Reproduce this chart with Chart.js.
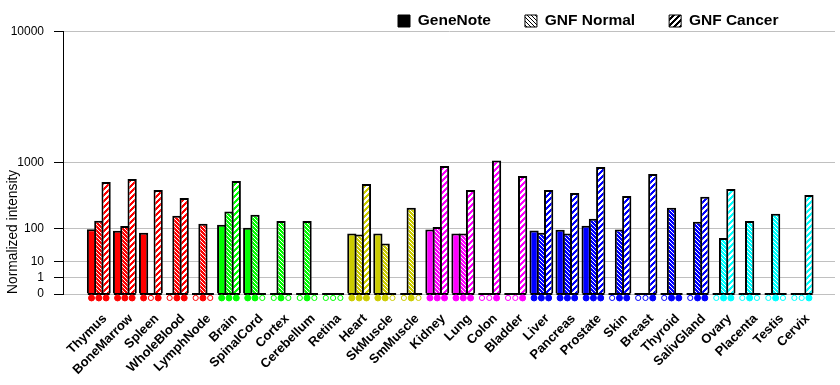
<!DOCTYPE html>
<html><head><meta charset="utf-8">
<script src="https://cdn.jsdelivr.net/npm/chart.js@4/dist/chart.umd.min.js"></script>
<style>html,body{margin:0;padding:0;background:#fff;overflow:hidden}</style>
</head><body>
<canvas id="c" width="840" height="385" style="width:840px;height:385px;display:block"></canvas>
<script>
// ---------------- data ----------------
const CATEGORIES = ['Thymus','BoneMarrow','Spleen','WholeBlood','LymphNode','Brain','SpinalCord','Cortex','Cerebellum','Retina','Heart','SkMuscle','SmMuscle','Kidney','Lung','Colon','Bladder','Liver','Pancreas','Prostate','Skin','Breast','Thyroid','SalivGland','Ovary','Placenta','Testis','Cervix'];
const TISSUE_COLORS = ['#ff0000','#ff0000','#ff0000','#ff0000','#ff0000',
  '#00ff00','#00ff00','#00ff00','#00ff00','#00ff00',
  '#cccc00','#cccc00','#cccc00',
  '#ff00ff','#ff00ff','#ff00ff','#ff00ff',
  '#0000ff','#0000ff','#0000ff','#0000ff','#0000ff','#0000ff','#0000ff',
  '#00ffff','#00ffff','#00ffff','#00ffff'];
const SERIES_NAMES = ['GeneNote','GNF Normal','GNF Cancer'];
const GENENOTE   = [96, 89, 80, null, null, 120, 103, null, null, null, 76, 76, null, 95, 76, null, null, 90, 93, 114, null, null, null, null, null, null, null, null];
const GNF_NORMAL = [144, 112, null, 179, 125, 214, 187, 143, 143, null, 72, 42, 247, 107, 76, null, null, 80, 76, 157, 94, null, 247, 138, 59, 143, 195, null];
const GNF_CANCER = [591, 645, 462, 355, null, 608, null, null, null, null, 557, null, null, 920, 462, 1060, 702, 462, 420, 895, 380, 742, null, 368, 478, null, null, 393];
// present (1) / absent (0) calls shown under each bar
const CALL_GENENOTE = [1,1,1,0,0,1,1,0,0,0,1,1,0,1,1,0,0,1,1,1,0,0,0,0,0,0,0,0];
const CALL_NORMAL   = [1,1,0,1,1,1,1,1,1,0,1,1,1,1,1,0,0,1,1,1,1,0,1,1,1,1,1,0];
const CALL_CANCER   = [1,1,1,1,0,1,0,0,0,0,1,0,0,1,1,1,1,1,1,1,1,1,1,1,1,0,0,1];
const TICK_VALUES = [0, 1, 10, 100, 1000, 10000];
const TICK_LABELS = ['0', '1', '10', '100', '1000', '10000'];

// ---------------- helpers ----------------
const EXP = Math.log10(2);               // axis spacing doubles per decade
const tf = v => (v === null ? null : (v <= 0 ? 0 : Math.pow(v, EXP)));
const FONT = '"Liberation Sans", Arial, Helvetica, sans-serif';
Chart.defaults.font.family = FONT;
Chart.defaults.color = '#000';

const canvas = document.getElementById('c');
const mainCtx = canvas.getContext('2d');
function makeHatch(base, line, kind) {
  const n = kind === 'normal' ? 4 : 6;
  const c = document.createElement('canvas');
  c.width = n; c.height = n;
  const g = c.getContext('2d');
  g.fillStyle = base; g.fillRect(0, 0, n, n);
  g.fillStyle = line;
  for (let y = 0; y < n; y++) for (let x = 0; x < n; x++) {
    const on = kind === 'normal' ? ((x - y + n) % n === 0) : ((x + y) % n < 3);
    if (on) g.fillRect(x, y, 1, 1);
  }
  return mainCtx.createPattern(c, 'repeat');
}
const patCache = {};
const pat = (col, kind) => (patCache[col + kind] = patCache[col + kind] || makeHatch(col, '#ffffff', kind));

const LEGEND_FILLS = ['#000000', makeHatch('#ffffff', '#000000', 'normal'), makeHatch('#000000', '#ffffff', 'cancer')];

const BAR_PCT = 0.84;
const BAR_STEP = BAR_PCT / 3;           // offset of each bar inside its group, in category units
const MARKER_DROP = -0.24;              // markers sit just below the zero line

const barData = arr => arr.map((v, i) => ({ x: i, y: tf(v) }));
const baseline = [];
CATEGORIES.forEach((_, i) => { baseline.push({ x: i - 0.42, y: 0 }, { x: i + 0.42, y: 0 }, { x: i + 0.5, y: null }); });
const markers = [], mFill = [], mStroke = [], mRad = [];
CATEGORIES.forEach((_, i) => {
  [CALL_GENENOTE, CALL_NORMAL, CALL_CANCER].forEach((calls, k) => {
    markers.push({ x: i + (k - 1) * BAR_STEP, y: MARKER_DROP });
    const col = TISSUE_COLORS[i];
    mFill.push(calls[i] ? col : '#ffffff');
    mStroke.push(col);
    mRad.push(calls[i] ? 3 : 2.6);
  });
});

const X_MIN = -1.376, X_MAX = 28.28;
const LEGEND_X = 398, LEGEND_CY = 21, LEGEND_H = 31.5;

const legendPlace = {
  id: 'legendPlace',
  beforeLayout(chart) {
    const lg = chart.legend;
    if (lg && !lg.__patched) {
      const fit = lg.fit;
      lg.fit = function () { fit.call(this); this.height = LEGEND_H; };
      lg.__patched = true;
    }
  },
  afterLayout(chart) {
    const lg = chart.legend;
    const lo = lg.options.labels;
    const w = lg.right - lg.left;
    lg.left = LEGEND_X - lo.padding;
    lg.right = lg.left + w;
    const ih = Math.max(lo.font.size, lo.boxHeight);
    lg.top = LEGEND_CY - lo.padding - ih / 2;
    lg.bottom = LEGEND_CY + ih;
  }
};

new Chart(canvas, {
  type: 'bar',
  data: {
    datasets: [
      { label: SERIES_NAMES[0], data: barData(GENENOTE), backgroundColor: TISSUE_COLORS, borderColor: '#000', borderWidth: 2, order: 2 },
      { label: SERIES_NAMES[1], data: barData(GNF_NORMAL), backgroundColor: TISSUE_COLORS.map(c => pat(c, 'normal')), borderColor: '#000', borderWidth: 2, order: 2 },
      { label: SERIES_NAMES[2], data: barData(GNF_CANCER), backgroundColor: TISSUE_COLORS.map(c => pat(c, 'cancer')), borderColor: '#000', borderWidth: 2, order: 2 },
      { type: 'line', label: 'base', data: baseline, borderColor: '#000', borderWidth: 2, pointRadius: 0, spanGaps: false, clip: false, order: 1 },
      { type: 'line', label: 'calls', data: markers, showLine: false, pointRadius: mRad, pointBackgroundColor: mFill, pointBorderColor: mStroke, pointBorderWidth: 1, clip: false, order: 0 }
    ]
  },
  options: {
    responsive: false,
    animation: false,
    events: [],
    devicePixelRatio: 1,
    layout: { padding: { top: 0, right: 1, left: 0, bottom: 0 } },
    datasets: { bar: { categoryPercentage: BAR_PCT, barPercentage: 1.27, grouped: true } },
    plugins: {
      tooltip: { enabled: false },
      legend: {
        position: 'top', align: 'start',
        labels: {
          boxWidth: 12, boxHeight: 12, padding: 34,
          font: { size: 15.5, weight: 'bold' }, color: '#000',
          generateLabels: () => SERIES_NAMES.map((name, i) => ({
            text: name, fillStyle: LEGEND_FILLS[i], strokeStyle: '#000', lineWidth: 1, hidden: false, datasetIndex: i
          }))
        }
      }
    },
    scales: {
      x: {
        type: 'linear', min: X_MIN, max: X_MAX, offset: false,
        afterBuildTicks: s => { s.ticks = CATEGORIES.map((_, i) => ({ value: i })); },
        afterFit: s => { s.height = 91; },
        ticks: { autoSkip: false, minRotation: 45, maxRotation: 45, padding: 17, labelOffset: 6,
          callback: (v, i) => CATEGORIES[i], font: { size: 13, weight: 'bold' }, color: '#000' },
        grid: { display: false, drawTicks: false },
        border: { display: false }
      },
      y: {
        type: 'linear', min: 0, max: tf(10000),
        afterBuildTicks: s => { s.ticks = TICK_VALUES.map(v => ({ value: tf(v) })); },
        afterFit: s => { s.width = 63; },
        ticks: { callback: (v, i) => TICK_LABELS[i], font: { size: 12 }, color: '#000', padding: 10 },
        grid: { color: '#c0c0c0', tickColor: '#000', tickLength: 9, lineWidth: 1 },
        border: { color: '#000', width: 1 },
        title: { display: true, text: 'Normalized intensity', align: 'start', font: { size: 13.8 }, color: '#000', padding: { top: 5, bottom: 0 } }
      }
    }
  },
  plugins: [legendPlace]
});
</script>
</body></html>
